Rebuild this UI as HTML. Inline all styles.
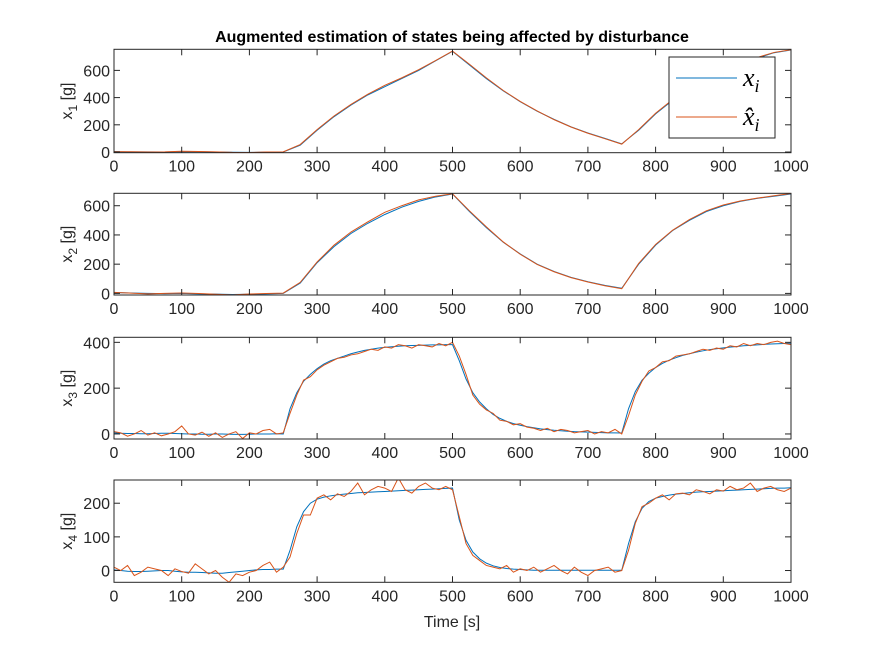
<!DOCTYPE html>
<html><head><meta charset="utf-8">
<style>
html,body{margin:0;padding:0;background:#fff;}
svg{display:block;font-family:"Liberation Sans",sans-serif;}
</style></head>
<body>
<svg id="fig" width="875" height="656" viewBox="0 0 875 656" xmlns="http://www.w3.org/2000/svg">
<rect width="875" height="656" fill="#fff"/>
<text x="452" y="42" text-anchor="middle" font-weight="bold" font-size="16" fill="#000">Augmented estimation of states being affected by disturbance</text>
<text x="452" y="627" text-anchor="middle" font-size="16" fill="#262626">Time [s]</text>
</svg>
<script>
// x1, x2 sampled every 25 s
const t25 = Array.from({length:41},(_, i)=>i*25);
const x1True = [2,1,1,0,3,2,0,-2,-3,-1,0, 50,160,260,345,420,480,540,600,670,740, 640,540,450,370,300,240,185,140,100,60, 160,280,380,470,540,600,650,690,730,750];
const x1Est  = [3,2,0,1,6,4,1,-3,-4,0,1, 55,165,265,350,425,490,545,605,672,742, 645,545,452,372,302,238,184,138,98,58, 165,285,385,475,545,605,652,695,732,752];
const x2True = [5,3,0,-2,0,-3,-5,-8,-6,-3,0, 70,210,320,410,480,540,590,630,660,680, 560,450,350,270,200,150,110,80,55,35, 200,330,430,500,560,600,630,650,665,680];
const x2Est  = [7,2,-3,0,3,-1,-6,-10,-4,-1,2, 75,215,330,420,490,555,600,640,665,682, 565,455,352,268,198,148,108,78,52,32, 205,335,432,505,565,605,632,652,668,684];
// x3, x4 sampled every 10 s
const t10 = Array.from({length:101},(_, i)=>i*10);
const x3True = [5,3,2,2,1,1,2,3,3,2,1,0,0,-1,-1,0,0,-1,-2,-2,-1,0,0,0,1,
 0,110,180,230,260,285,305,320,330,340,350,358,365,370,375,378,381,383,385,386,387,388,389,389,390,390,
 320,240,180,140,110,85,68,55,45,38,32,27,22,19,16,14,12,10,9,8,7,6,5,5,4,
 110,185,235,265,290,308,322,333,343,350,357,363,368,372,376,379,382,385,387,389,391,393,394,395,396];
const x3Est = [10,5,-10,0,15,-5,5,-8,0,10,35,0,-5,8,-10,5,-15,0,10,-20,5,0,15,20,0,
 5,90,170,235,250,280,300,315,330,335,345,350,360,370,365,380,375,390,385,375,390,385,380,395,385,400,
 340,260,170,130,105,90,60,55,40,45,30,25,15,25,10,20,15,5,10,15,0,10,5,20,0,
 80,170,230,275,290,315,320,340,345,350,360,370,365,375,370,385,380,395,385,395,390,400,405,395,390];
const x4True = [2,0,-2,-3,-3,-2,-1,0,0,-2,-4,-5,-5,-6,-7,-8,-8,-6,-4,-2,0,2,3,3,4,
 4,60,130,175,200,212,218,222,225,227,229,231,232,233,234,235,236,237,238,239,240,241,242,243,244,245,
 150,90,55,35,22,14,9,6,4,3,2,1,1,1,1,1,1,1,1,1,1,1,1,1,1,
 80,145,185,205,215,220,224,227,229,231,233,234,235,236,237,238,239,240,241,242,243,244,245,245,246];
const x4Est = [10,0,15,-15,-5,10,5,0,-15,5,-3,-8,20,5,-10,0,-20,-35,-10,-15,-5,0,15,25,-5,
 10,40,110,165,165,215,225,210,228,220,235,260,225,240,250,245,235,275,240,230,250,260,245,240,250,240,
 160,80,45,30,15,10,5,15,-5,5,0,10,-5,5,15,0,-10,10,-5,-15,0,5,10,-5,0,
 60,140,190,200,215,225,210,228,230,225,240,235,228,240,236,250,240,245,260,235,245,250,240,235,245];
const xTicks = [0,100,200,300,400,500,600,700,800,900,1000];
const yTicks1 = [0,200,400,600];
const yTicks2 = [0,200,400,600];
const yTicks3 = [0,200,400];
const yTicks4 = [0,100,200];

const NS="http://www.w3.org/2000/svg";
const svg=document.getElementById('fig');
function mk(tag,attrs,parent){const e=document.createElementNS(NS,tag);for(const k in attrs)e.setAttribute(k,attrs[k]);(parent||svg).appendChild(e);return e;}

const panels=[
 {top:49.3,bot:152.7,ymin:-5,ymax:755,ticks:yTicks1,t:t25,tr:x1True,es:x1Est,lab:'1'},
 {top:193.3,bot:295,ymin:-11,ymax:685,ticks:yTicks2,t:t25,tr:x2True,es:x2Est,lab:'2'},
 {top:337.3,bot:439,ymin:-22,ymax:422,ticks:yTicks3,t:t10,tr:x3True,es:x3Est,lab:'3'},
 {top:480,bot:582.3,ymin:-35,ymax:269,ticks:yTicks4,t:t10,tr:x4True,es:x4Est,lab:'4'}
];
const L=114,R=791;
const xs=v=>L+(v/1000)*(R-L);
panels.forEach((p,pi)=>{
 const ys=v=>p.bot-(v-p.ymin)/(p.ymax-p.ymin)*(p.bot-p.top);
 const g=mk('g',{});
 
 
 const clipId='clip'+pi;
 const cp=mk('clipPath',{id:clipId},g);
 mk('rect',{x:L,y:p.top,width:R-L,height:p.bot-p.top},cp);
 const line=(arr,color,name)=>{
  const d=arr.map((v,i)=>(i?'L':'M')+xs(p.t[i]).toFixed(2)+' '+ys(v).toFixed(2)).join(' ');
  const e=mk('path',{d:d,fill:'none',stroke:color,'stroke-width':1,'clip-path':'url(#'+clipId+')'},g);
  
  
 };
 line(p.tr,'#0072BD','true-x'+p.lab+'-line');
 line(p.es,'#D95319','estimated-x'+p.lab+'-line');
 const box=mk('rect',{x:L,y:p.top,width:R-L,height:p.bot-p.top,fill:'none',stroke:'#262626','stroke-width':1},g);
 
 
 xTicks.forEach(v=>{
  const x=xs(v);
  mk('line',{x1:x,x2:x,y1:p.bot,y2:p.bot-6,stroke:'#262626'},g);
  mk('line',{x1:x,x2:x,y1:p.top,y2:p.top+6,stroke:'#262626'},g);
  const t=mk('text',{x:x,y:p.bot+19,'text-anchor':'middle','font-size':16,fill:'#262626'},g);
  t.textContent=v;
  
  
 });
 p.ticks.forEach(v=>{
  const y=ys(v);
  mk('line',{x1:L,x2:L+6,y1:y,y2:y,stroke:'#262626'},g);
  mk('line',{x1:R,x2:R-6,y1:y,y2:y,stroke:'#262626'},g);
  const t=mk('text',{x:L-4,y:y+6,'text-anchor':'end','font-size':16,fill:'#262626'},g);
  t.textContent=v;
  
  
 });
 const cy=(p.top+p.bot)/2;
 const yl=mk('text',{transform:'translate(72,'+cy+') rotate(-90)','text-anchor':'middle','font-size':16,fill:'#262626'},g);
 yl.innerHTML='x<tspan dy="5" font-size="12">'+p.lab+'</tspan><tspan dy="-5"> [g]</tspan>';
 
 
});
// legend
const lg=mk('g',{});


mk('rect',{x:669,y:57,width:106,height:81,fill:'#fff',stroke:'#262626','stroke-width':1},lg);
const e1=mk('g',{},lg);


mk('line',{x1:676,x2:737,y1:78,y2:78,stroke:'#0072BD'},e1);
const t1=mk('text',{x:743,y:86,'font-size':26,'font-style':'italic','font-family':'"Liberation Serif",serif',fill:'#000'},e1);
t1.innerHTML='x<tspan dy="6" font-size="18">i</tspan>';
const e2=mk('g',{},lg);


mk('line',{x1:676,x2:737,y1:117,y2:117,stroke:'#D95319'},e2);
const t2=mk('text',{x:743,y:125,'font-size':26,'font-style':'italic','font-family':'"Liberation Serif",serif',fill:'#000'},e2);
t2.innerHTML='x̂<tspan dy="6" font-size="18">i</tspan>';
</script>
</body></html>
